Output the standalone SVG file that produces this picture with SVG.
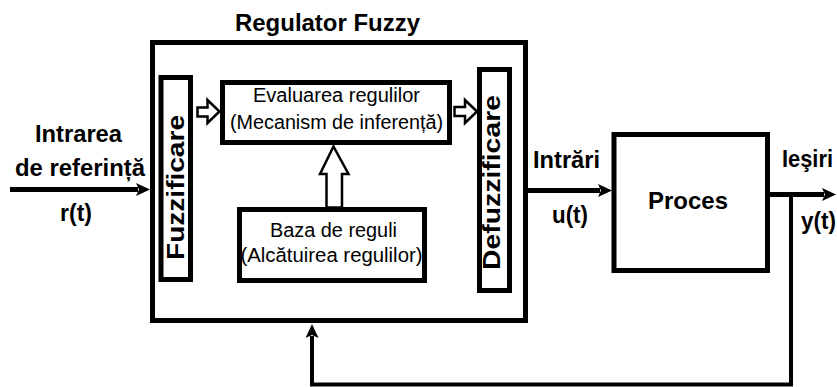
<svg xmlns="http://www.w3.org/2000/svg" width="837" height="387" viewBox="0 0 837 387">
<defs>
<style>
.box{fill:none;stroke:#000;stroke-width:5}
.wire{fill:none;stroke:#000;stroke-width:5}
.fb{fill:none;stroke:#000;stroke-width:4}
.hollow{fill:#fff;stroke:#000;stroke-width:2.5;stroke-linejoin:miter}
.lbl{font-family:"Liberation Sans",Arial,sans-serif;font-weight:bold;font-size:24px;fill:#000}
.in{font-family:"Liberation Sans",Arial,sans-serif;font-size:19.5px;fill:#000}
</style>
<marker id="ah" markerUnits="userSpaceOnUse" markerWidth="14" markerHeight="13" refX="2" refY="6.5" orient="auto">
<path d="M0,0 L14,6.5 L0,13 L3,6.5 Z" fill="#000"/>
</marker>
</defs>
<rect width="837" height="387" fill="#fff"/>

<g id="regulator">
<rect class="box" x="152.5" y="42.5" width="373" height="278"/>
<text class="lbl" x="235" y="31" font-size="26" textLength="185" lengthAdjust="spacingAndGlyphs">Regulator Fuzzy</text>
</g>

<g id="fuzzificare">
<rect class="box" x="161" y="77.5" width="29.5" height="202"/>
<text class="lbl" transform="translate(183.5,187.5) rotate(-90)" text-anchor="middle" font-size="23" textLength="145" lengthAdjust="spacingAndGlyphs">Fuzzificare</text>
</g>

<g id="evaluare">
<rect class="box" x="222.5" y="82.5" width="227" height="60"/>
<text class="in" x="253" y="102" textLength="167" lengthAdjust="spacingAndGlyphs">Evaluarea regulilor</text>
<text class="in" x="230" y="128.5" textLength="213" lengthAdjust="spacingAndGlyphs">(Mecanism de inferență)</text>
</g>

<g id="baza">
<rect class="box" x="239.5" y="209.5" width="185" height="71"/>
<text class="in" x="270" y="237" textLength="127" lengthAdjust="spacingAndGlyphs">Baza de reguli</text>
<text class="in" x="240.5" y="262" textLength="182" lengthAdjust="spacingAndGlyphs">(Alcătuirea regulilor)</text>
</g>

<g id="defuzzificare">
<rect class="box" x="479.5" y="69.5" width="30" height="221"/>
<text class="lbl" transform="translate(500,182.5) rotate(-90)" text-anchor="middle" font-size="23" textLength="175" lengthAdjust="spacingAndGlyphs">Defuzzificare</text>
</g>

<g id="proces">
<rect class="box" x="614" y="134.5" width="153.5" height="136"/>
<text class="lbl" x="688" y="208.5" text-anchor="middle" textLength="80" lengthAdjust="spacingAndGlyphs">Proces</text>
</g>

<g id="connectors">
<polygon class="hollow" points="197.5,107.5 207.5,107.5 207.5,100 219.5,111.5 207.5,123 207.5,116.5 197.5,116.5"/>
<polygon class="hollow" points="454.5,107 465,107 465,100 477,111.5 465,123 465,116 454.5,116"/>
<polygon class="hollow" points="333.5,146.5 348.5,174 342,174 342,207.5 326.5,207.5 326.5,174 320,174"/>
<path class="wire" d="M10,189.5 H138" marker-end="url(#ah)"/>
<path class="wire" d="M528,190.5 H600" marker-end="url(#ah)"/>
<path class="wire" d="M767,194.5 H824" marker-end="url(#ah)"/>
<path class="fb" d="M791,195 V384.5 H312 V336" marker-end="url(#ah)"/>
</g>

<g id="labels">
<text class="lbl" x="35" y="141.5" textLength="87" lengthAdjust="spacingAndGlyphs">Intrarea</text>
<text class="lbl" x="15" y="175.5" textLength="130" lengthAdjust="spacingAndGlyphs">de referință</text>
<text class="lbl" x="60" y="221" textLength="32" lengthAdjust="spacingAndGlyphs">r(t)</text>
<text class="lbl" x="533" y="168" textLength="67" lengthAdjust="spacingAndGlyphs">Intrări</text>
<text class="lbl" x="552" y="223" textLength="36" lengthAdjust="spacingAndGlyphs">u(t)</text>
<text class="lbl" x="782" y="167" textLength="51" lengthAdjust="spacingAndGlyphs">Ieşiri</text>
<text class="lbl" x="801" y="229" textLength="35" lengthAdjust="spacingAndGlyphs">y(t)</text>
</g>
</svg>
